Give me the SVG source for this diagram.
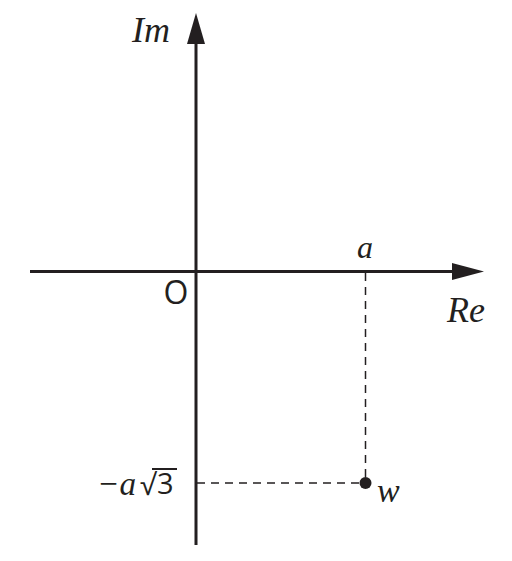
<svg xmlns="http://www.w3.org/2000/svg" width="512" height="561" viewBox="0 0 512 561">
<style>
.ax{stroke:#231f20;stroke-width:3;fill:none}
.dash{stroke:#231f20;stroke-width:1.5;stroke-dasharray:8,6;fill:none}
.it{font-family:"Liberation Serif",serif;font-style:italic;fill:#231f20}
.sans{font-family:"Open Sans","DejaVu Sans",sans-serif;fill:#231f20}
</style>
<rect width="512" height="561" fill="#fff"/>
<g id="connectors">
<line class="ax" x1="196" y1="545" x2="196" y2="40"/>
<polygon points="196,13 187,44 205,44" fill="#231f20"/>
<line class="ax" x1="30" y1="271.5" x2="455" y2="271.5"/>
<polygon points="484,271.5 452,263 452,280" fill="#231f20"/>
<line class="dash" x1="365.5" y1="273" x2="365.5" y2="478"/>
<line class="dash" x1="197" y1="483" x2="360" y2="483"/>
</g>
<g id="point-w">
<circle cx="365.5" cy="483" r="6" fill="#231f20"/>
<text class="it" x="377" y="502" font-size="34">w</text>
</g>
<g id="label-im"><text class="it" x="132" y="42" font-size="36">Im</text></g>
<g id="label-re"><text class="it" x="447" y="322" font-size="36">Re</text></g>
<g id="label-a"><text class="it" x="357" y="258" font-size="32">a</text></g>
<g id="label-o"><text class="sans" x="176" y="304" font-size="32" text-anchor="middle">O</text></g>
<g id="label-im-value">
<text class="it" x="97" y="495" font-size="34" textLength="39" lengthAdjust="spacingAndGlyphs">−a</text>
<text class="sans" x="140" y="495" font-size="29">√</text>
<line x1="152" y1="469" x2="177" y2="469" stroke="#231f20" stroke-width="2"/>
<text class="sans" x="157" y="494" font-size="29">3</text>
</g>
</svg>
